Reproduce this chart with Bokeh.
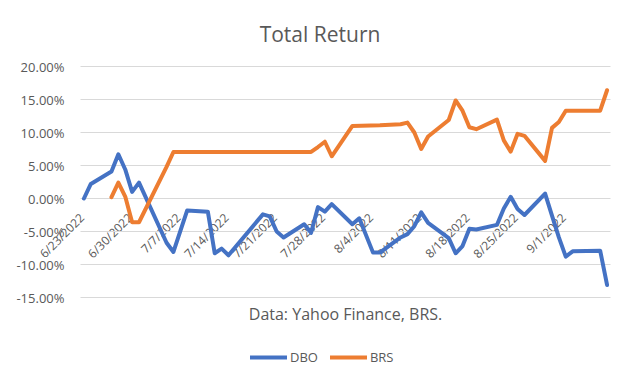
import math
import pandas as pd
from bokeh.plotting import figure
from bokeh.models import (Range1d, Legend, LegendItem, LabelSet, Label, ColumnDataSource)
from bokeh.core.properties import value
from bokeh.embed import file_html
from bokeh.resources import INLINE

# ---- data (% total return) ----
dbo_dates = ["2022-06-23", "2022-06-24", "2022-06-27", "2022-06-28", "2022-06-29", "2022-06-30",
             "2022-07-01", "2022-07-05", "2022-07-06", "2022-07-08", "2022-07-11", "2022-07-12",
             "2022-07-13", "2022-07-14", "2022-07-19", "2022-07-20", "2022-07-21", "2022-07-22",
             "2022-07-25", "2022-07-26", "2022-07-27", "2022-07-28", "2022-07-29", "2022-08-01",
             "2022-08-02", "2022-08-04", "2022-08-05", "2022-08-08", "2022-08-09", "2022-08-10",
             "2022-08-11", "2022-08-12", "2022-08-15", "2022-08-16", "2022-08-17", "2022-08-18",
             "2022-08-19", "2022-08-22", "2022-08-23", "2022-08-24", "2022-08-25", "2022-08-26",
             "2022-08-29", "2022-08-30", "2022-08-31", "2022-09-01", "2022-09-02", "2022-09-06",
             "2022-09-07"]
dbo_values = [0.0, 2.2, 4.1, 6.7, 4.4, 1.0,
              2.4, -6.7, -8.1, -1.8, -2.0, -8.3,
              -7.6, -8.6, -2.4, -2.7, -5.0, -5.9,
              -3.9, -5.2, -1.3, -2.0, -0.85, -3.9,
              -3.0, -8.2, -8.2, -5.9, -5.4, -4.2,
              -2.1, -3.7, -6.0, -8.3, -7.2, -4.6,
              -4.7, -4.0, -1.5, 0.25, -1.6, -2.5,
              0.75, -2.6, -5.9, -8.8, -8.0, -7.9,
              -13.1]

brs_dates = ["2022-06-27", "2022-06-28", "2022-06-29", "2022-06-30", "2022-07-01", "2022-07-05",
             "2022-07-06", "2022-07-26", "2022-07-27", "2022-07-28", "2022-07-29", "2022-08-01",
             "2022-08-05", "2022-08-08", "2022-08-09", "2022-08-10", "2022-08-11", "2022-08-12",
             "2022-08-15", "2022-08-16", "2022-08-17", "2022-08-18", "2022-08-19", "2022-08-22",
             "2022-08-23", "2022-08-24", "2022-08-25", "2022-08-26", "2022-08-29", "2022-08-30",
             "2022-08-31", "2022-09-01", "2022-09-06", "2022-09-07"]
brs_values = [0.2, 2.4, 0.3, -3.6, -3.6, 4.8,
              7.05, 7.05, 7.8, 8.6, 6.4, 11.0,
              11.1, 11.25, 11.5, 10.0, 7.5, 9.4,
              11.9, 14.85, 13.3, 10.8, 10.5, 11.95,
              8.8, 7.1, 9.8, 9.5, 5.7, 10.7,
              11.6, 13.3, 13.3, 16.4]

tick_dates = ["2022-06-23", "2022-06-30", "2022-07-07", "2022-07-14", "2022-07-21", "2022-07-28",
              "2022-08-04", "2022-08-11", "2022-08-18", "2022-08-25", "2022-09-01"]
tick_labels = ["6/23/2022", "6/30/2022", "7/7/2022", "7/14/2022", "7/21/2022", "7/28/2022",
               "8/4/2022", "8/11/2022", "8/18/2022", "8/25/2022", "9/1/2022"]
y_ticks = [-15, -10, -5, 0, 5, 10, 15, 20]
y_tick_labels = [f"{v:.2f}%" for v in y_ticks]

FONT = "Open Sans"
GREY = "#595959"

# ---- layout (pixels) ----
W, H = 624, 369
PLOT_L, PLOT_R, PLOT_T, PLOT_B = 80, 610, 66, 297      # Excel plot area
y_lo, y_hi = y_ticks[0], y_ticks[-1]

day = pd.Timedelta(days=1)
x_start = pd.Timestamp(dbo_dates[0]) - day / 2
x_end = pd.Timestamp(dbo_dates[-1]) + day / 2
per_px = (x_end - x_start) / (PLOT_R - PLOT_L)
frame_x0 = x_start - per_px * PLOT_L                     # frame = whole figure
frame_x1 = x_end + per_px * (W - PLOT_R)
val_per_px = (y_hi - y_lo) / (PLOT_B - PLOT_T)
frame_y0 = y_lo - val_per_px * (H - PLOT_B)
frame_y1 = y_hi + val_per_px * PLOT_T

p = figure(width=W, height=H, x_axis_type="datetime", output_backend="svg",
           toolbar_location=None, x_range=Range1d(frame_x0, frame_x1),
           y_range=Range1d(frame_y0, frame_y1),
           min_border_left=0, min_border_right=0, min_border_top=0, min_border_bottom=0)
p.xaxis.visible = False
p.yaxis.visible = False
p.grid.visible = False
p.outline_line_color = None
p.background_fill_color = "white"
p.border_fill_color = "white"

# title
p.add_layout(Label(x=frame_x0 + per_px * 319.5, y=y_hi + val_per_px * (PLOT_T - 33),
                   text="Total Return", text_align="center", text_baseline="middle",
                   text_font=FONT, text_font_size="21px", text_color=GREY))

# horizontal gridlines across the plot area
p.segment(x0=[x_start] * len(y_ticks), x1=[x_end] * len(y_ticks), y0=y_ticks, y1=y_ticks,
          line_color="#D9D9D9", line_width=1)

# y tick labels
ysrc = ColumnDataSource(dict(x=[x_start] * len(y_ticks), y=y_ticks, text=y_tick_labels))
p.add_layout(LabelSet(x="x", y="y", text="text", source=ysrc, x_offset=-16,
                      text_align="right", text_baseline="middle", text_font=value(FONT),
                      text_font_size=value("13px"), text_color=value(GREY)))

# rotated date labels next to the 0% line
lab_src = ColumnDataSource(dict(x=pd.to_datetime(tick_dates), y=[0] * len(tick_dates),
                                text=tick_labels))
p.add_layout(LabelSet(x="x", y="y", text="text", source=lab_src, angle=math.pi / 4,
                      text_align="right", text_baseline="middle", x_offset=-2, y_offset=-17,
                      text_font=value(FONT), text_font_size=value("12px"),
                      text_color=value(GREY), level="underlay"))

# source note under the plot area
p.add_layout(Label(x=x_start + (x_end - x_start) / 2, y=y_lo - val_per_px * 16,
                   text="Data: Yahoo Finance, BRS.", text_align="center",
                   text_baseline="middle", text_font=FONT, text_font_size="16px",
                   text_color=GREY))

dbo_src = ColumnDataSource(dict(x=pd.to_datetime(dbo_dates), y=dbo_values))
brs_src = ColumnDataSource(dict(x=pd.to_datetime(brs_dates), y=brs_values))
r_dbo = p.line("x", "y", source=dbo_src, line_color="#4472C4", line_width=4,
               line_join="round", line_cap="round")
r_brs = p.line("x", "y", source=brs_src, line_color="#ED7D31", line_width=4,
               line_join="round", line_cap="round")

legend = Legend(items=[LegendItem(label="DBO", renderers=[r_dbo]),
                       LegendItem(label="BRS", renderers=[r_brs])],
                orientation="horizontal", location=(250, 3), padding=0, margin=0,
                spacing=12, glyph_width=37, glyph_height=18, label_height=18,
                label_standoff=3, label_text_font=FONT, label_text_font_size="13px",
                label_text_color=GREY, border_line_color=None, background_fill_alpha=0)
p.add_layout(legend, "center")

open("out.html", "w").write(file_html(p, INLINE))
